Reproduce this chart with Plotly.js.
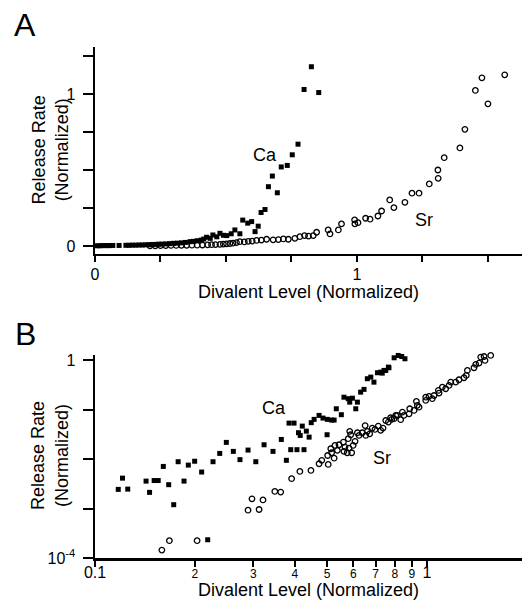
<!DOCTYPE html>
<html>
<head>
<meta charset="utf-8">
<script src="https://cdn.plot.ly/plotly-3.0.1.min.js"></script>
<style>html,body{margin:0;padding:0;background:#fff;}#chart{width:525px;height:601px;}</style>
</head>
<body>
<div id="chart"></div>
<script>
// ---------- Panel A (linear) ----------
const caA_x = [0.008,0.018,0.028,0.038,0.048,0.058,0.068,0.092,0.118,0.13,0.142,0.155,0.168,0.18,0.192,0.205,0.218,0.23,0.242,0.255,0.27,0.285,0.30,0.315,0.33,0.345,0.363,0.375,0.39,0.405,0.415,0.426,0.44,0.45,0.465,0.477,0.49,0.503,0.52,0.534,0.553,0.564,0.583,0.598,0.611,0.623,0.634,0.649,0.662,0.677,0.696,0.711,0.734,0.753,0.775,0.798,0.826,0.854];
const caA_y = [0.001,0.001,0.002,0.002,0.002,0.002,0.003,0.003,0.004,0.004,0.005,0.005,0.006,0.006,0.007,0.008,0.009,0.01,0.011,0.012,0.013,0.015,0.017,0.018,0.02,0.023,0.028,0.03,0.034,0.038,0.045,0.057,0.05,0.072,0.06,0.083,0.07,0.068,0.08,0.105,0.08,0.17,0.15,0.16,0.094,0.13,0.22,0.24,0.39,0.46,0.35,0.52,0.53,0.60,0.67,1.03,1.18,1.01];
const srA_x = [0.21,0.23,0.25,0.27,0.29,0.31,0.33,0.35,0.37,0.39,0.41,0.43,0.445,0.46,0.477,0.49,0.502,0.515,0.527,0.54,0.553,0.57,0.585,0.60,0.617,0.635,0.655,0.68,0.70,0.719,0.738,0.763,0.782,0.80,0.815,0.833,0.846,0.89,0.897,0.929,0.941,0.991,0.992,1.004,1.033,1.05,1.08,1.094,1.125,1.141,1.183,1.21,1.237,1.276,1.309,1.31,1.333,1.393,1.412,1.452,1.477,1.5,1.547,1.564];
const srA_y = [0.001,0.001,0.002,0.002,0.003,0.003,0.004,0.004,0.005,0.005,0.006,0.007,0.008,0.009,0.01,0.012,0.014,0.016,0.018,0.022,0.028,0.026,0.03,0.032,0.036,0.038,0.044,0.04,0.042,0.046,0.044,0.05,0.061,0.068,0.065,0.068,0.09,0.105,0.079,0.105,0.145,0.171,0.145,0.153,0.182,0.176,0.197,0.23,0.303,0.252,0.287,0.347,0.347,0.408,0.50,0.445,0.581,0.645,0.768,1.024,1.107,0.936,1.318,1.127];

// ---------- Panel B (log-log) ----------
const caB_x = [0.1175,0.121,0.1255,0.1425,0.146,0.1507,0.155,0.1606,0.1667,0.1726,0.178,0.1854,0.191,0.1996,0.2095,0.2185,0.2267,0.2375,0.2486,0.261,0.2733,0.289,0.305,0.323,0.3436,0.364,0.377,0.384,0.3886,0.3976,0.4058,0.41,0.415,0.421,0.426,0.433,0.4414,0.448,0.457,0.473,0.486,0.50,0.501,0.516,0.525,0.533,0.552,0.562,0.579,0.585,0.596,0.61,0.617,0.631,0.646,0.661,0.677,0.692,0.709,0.725,0.733,0.742,0.751,0.765,0.768,0.796,0.819,0.839,0.858];
const caB_y = [0.00245,0.00414,0.00248,0.0036,0.00213,0.0037,0.0037,0.00714,0.00305,0.0012,0.0089,0.0036,0.0076,0.0091,0.0055,0.000234,0.0089,0.0131,0.0219,0.0144,0.0098,0.0153,0.0089,0.0196,0.0144,0.0251,0.0095,0.0538,0.0156,0.0538,0.0156,0.0344,0.0303,0.0468,0.0156,0.037,0.028,0.0549,0.064,0.077,0.068,0.0313,0.064,0.062,0.062,0.105,0.0796,0.18,0.168,0.143,0.172,0.105,0.143,0.228,0.259,0.426,0.459,0.363,0.563,0.579,0.553,0.627,0.627,0.732,0.71,1.13,1.26,1.2,1.08];
const srB_x = [0.159,0.1675,0.203,0.289,0.297,0.312,0.3206,0.348,0.3625,0.391,0.414,0.447,0.473,0.482,0.504,0.502,0.516,0.525,0.513,0.528,0.537,0.543,0.56,0.566,0.562,0.575,0.582,0.579,0.589,0.585,0.599,0.593,0.607,0.617,0.624,0.638,0.651,0.654,0.661,0.672,0.684,0.697,0.713,0.725,0.737,0.751,0.765,0.777,0.783,0.796,0.805,0.814,0.833,0.843,0.852,0.883,0.887,0.914,0.929,0.935,0.946,0.991,0.991,1.014,1.037,1.05,1.082,1.087,1.112,1.138,1.165,1.179,1.22,1.248,1.292,1.313,1.323,1.385,1.402,1.434,1.451,1.485,1.495,1.555];
const srB_y = [0.000145,0.000224,0.000224,0.00093,0.00158,0.00096,0.0015,0.00223,0.00216,0.00403,0.00566,0.00593,0.0081,0.0095,0.00785,0.0119,0.0135,0.0105,0.0163,0.019,0.0151,0.0196,0.0222,0.0176,0.0144,0.0135,0.0168,0.026,0.0313,0.0366,0.019,0.0135,0.023,0.0343,0.0303,0.0343,0.048,0.0303,0.0366,0.0327,0.0427,0.0401,0.0468,0.0385,0.0427,0.0608,0.0564,0.069,0.064,0.066,0.077,0.077,0.063,0.09,0.077,0.083,0.105,0.097,0.148,0.123,0.113,0.155,0.18,0.187,0.168,0.195,0.247,0.218,0.288,0.267,0.312,0.364,0.364,0.406,0.446,0.497,0.627,0.711,0.83,0.882,1.17,1.2,1.0,1.26];

// ---------- Tick labels ----------
const tickA_x_vals = [0,0.25,0.5,0.75,1,1.25,1.5];
const tickA_x_text = ['0','','','','1','',''];
const tickA_y_vals = [0,0.25,0.5,0.75,1,1.25];
const tickA_y_text = ['0','','','','1',''];
const tickB_x_vals = [0.1,0.2,0.3,0.4,0.5,0.6,0.7,0.8,0.9,1];
const tickB_x_text = ['<span style="font-size:16px">0.1</span>','2','3','4','5','6','7','8','9','<span style="font-size:16px">1</span>'];
const tickB_y_vals = [1e-4,1e-3,1e-2,1e-1,1];
const tickB_y_text = ['10<sup>-4</sup>','','','','1'];

const FONT = 'Liberation Sans, Arial, Helvetica, sans-serif';

const caMarker = {symbol:'square', size:5, color:'#000', line:{width:0}};
const srMarker = {symbol:'circle-open', size:5.5, color:'#000', line:{width:1.3, color:'#000'}};

const traces = [
  {x:caA_x, y:caA_y, mode:'markers', type:'scatter', marker:caMarker, xaxis:'x', yaxis:'y', name:'Ca', cliponaxis:false},
  {x:srA_x, y:srA_y, mode:'markers', type:'scatter', marker:srMarker, xaxis:'x', yaxis:'y', name:'Sr', cliponaxis:false},
  {x:caB_x, y:caB_y, mode:'markers', type:'scatter', marker:caMarker, xaxis:'x2', yaxis:'y2', name:'Ca', cliponaxis:false},
  {x:srB_x, y:srB_y, mode:'markers', type:'scatter', marker:srMarker, xaxis:'x2', yaxis:'y2', name:'Sr', cliponaxis:false}
];

const axisCommon = {
  showgrid:false, zeroline:false, showline:true, linecolor:'#000', linewidth:2.5,
  ticks:'outside', tickcolor:'#000', tickwidth:2, tickmode:'array',
  tickfont:{family:FONT, size:16, color:'#000'}, fixedrange:true
};

const layout = {
  width:525, height:601,
  margin:{l:95, r:3, t:47, b:43},
  paper_bgcolor:'#fff', plot_bgcolor:'#fff',
  showlegend:false,
  font:{family:FONT, color:'#000'},
  xaxis: Object.assign({}, axisCommon, {domain:[0,1], anchor:'y', range:[0,1.63], tickvals:tickA_x_vals, ticktext:tickA_x_text, ticklen:6, ticklabelstandoff:-2}),
  yaxis: Object.assign({}, axisCommon, {domain:[0.595,1], anchor:'x', range:[-0.053,1.31], tickvals:tickA_y_vals, ticktext:tickA_y_text, ticklen:10, ticklabelstandoff:4}),
  xaxis2: Object.assign({}, axisCommon, {domain:[0,1], anchor:'y2', type:'log', range:[-1,0.286], tickvals:tickB_x_vals, ticktext:tickB_x_text, ticklen:6, ticklabelstandoff:-3, tickfont:{family:FONT, size:12, color:'#000'}}),
  yaxis2: Object.assign({}, axisCommon, {domain:[0,0.3973], anchor:'x2', type:'log', range:[-4,0.11], tickvals:tickB_y_vals, ticktext:tickB_y_text, ticklen:10, ticklabelstandoff:4}),
  annotations:[
    {text:'A', xref:'paper', yref:'paper', x:-0.164, y:1.043, showarrow:false, xanchor:'center', yanchor:'middle', font:{size:32, family:FONT}},
    {text:'B', xref:'paper', yref:'paper', x:-0.162, y:0.438, showarrow:false, xanchor:'center', yanchor:'middle', font:{size:32, family:FONT}},
    {text:'Release Rate<br>(Normalized)', xref:'paper', yref:'paper', x:-0.105, y:0.798, textangle:-90, showarrow:false, xanchor:'center', yanchor:'middle', font:{size:18, family:FONT}},
    {text:'Release Rate<br>(Normalized)', xref:'paper', yref:'paper', x:-0.105, y:0.2, textangle:-90, showarrow:false, xanchor:'center', yanchor:'middle', font:{size:18, family:FONT}},
    {text:'Divalent Level (Normalized)', xref:'paper', yref:'paper', x:0.501, y:0.5205, showarrow:false, xanchor:'center', yanchor:'middle', font:{size:18, family:FONT}},
    {text:'Divalent Level (Normalized)', xref:'paper', yref:'paper', x:0.501, y:-0.0626, showarrow:false, xanchor:'center', yanchor:'middle', font:{size:18, family:FONT}},
    {text:'Ca', xref:'x', yref:'y', x:0.649, y:0.60, showarrow:false, font:{size:18, family:FONT}},
    {text:'Sr', xref:'x', yref:'y', x:1.256, y:0.171, showarrow:false, font:{size:18, family:FONT}},
    {text:'Ca', xref:'x2', yref:'y2', x:-0.461, y:-0.972, showarrow:false, font:{size:18, family:FONT}},
    {text:'Sr', xref:'x2', yref:'y2', x:-0.1355, y:-1.984, showarrow:false, font:{size:18, family:FONT}}
  ]
};

Plotly.newPlot('chart', traces, layout, {staticPlot:true, displayModeBar:false});
</script>
</body>
</html>
